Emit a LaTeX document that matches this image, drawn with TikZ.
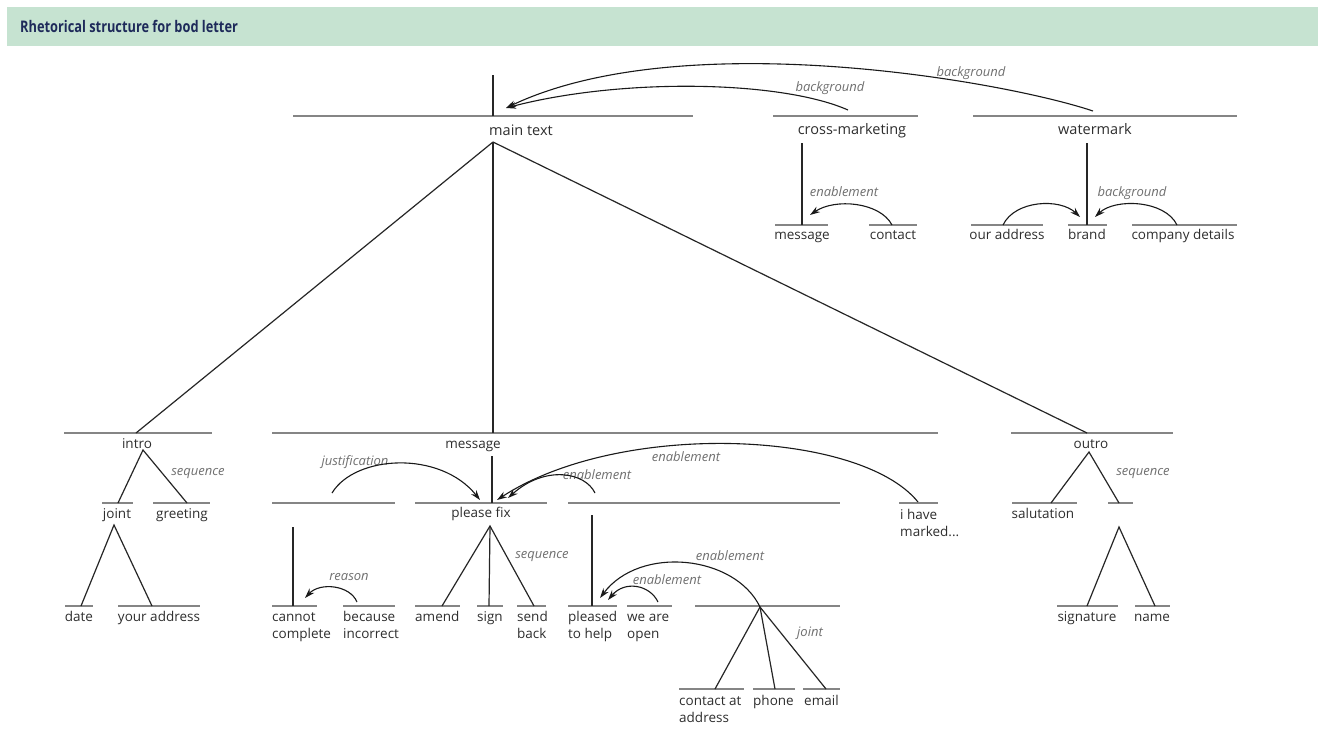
\documentclass[tikz,border=0pt]{standalone}
\usepackage{fontspec}
\setmainfont{Open Sans}
\newfontfamily\titlefont[FakeStretch=0.8]{Open Sans}
\usetikzlibrary{arrows.meta}
\definecolor{band}{HTML}{C6E3D1}
\definecolor{titlecol}{HTML}{1E2A5A}
\definecolor{barcol}{HTML}{858585}
\definecolor{txtcol}{HTML}{2E2E2E}
\definecolor{relcol}{HTML}{707070}
\newcommand{\twoline}[2]{\begin{tabular}[t]{@{}l@{}}#1\\#2\end{tabular}}
\begin{document}
\begin{tikzpicture}[x=1pt,y=-1pt,
 bar/.style={fill=barcol, inner sep=0pt, outer sep=0pt, minimum height=2.2pt, draw=none},
 lbl/.style={font=\fontsize{13.5}{17}\selectfont, text=txtcol, inner sep=0pt, anchor=base},
 toplbl/.style={lbl, font=\fontsize{14.5}{17}\selectfont},
 lbll/.style={lbl, anchor=base west},
 rel/.style={font=\fontsize{13}{15}\selectfont\itshape, text=relcol, inner sep=0pt},
 tree/.style={draw=black!85, line width=1.2pt},
 relarrow/.style={draw=black!90, line width=1.1pt, -{Stealth[length=10pt,width=6.5pt]}},
]
\useasboundingbox (0,0) rectangle (1318,731);
\fill[white] (0,0) rectangle (1318,731);
% header
\fill[band] (7,7) rectangle (1318,46);
\node[anchor=base west, inner sep=0pt, font=\titlefont\fontsize{16}{18}\selectfont\bfseries, text=titlecol] (title) at (20,32) {Rhetorical structure for bod letter};

% ---------- bars ----------
\node[bar, minimum width=400pt] (mainbar) at (493,116) {};
\node[bar, minimum width=145pt] (cmbar) at (845.5,116) {};
\node[bar, minimum width=264pt] (wmbar) at (1105,116) {};
\node[bar, minimum width=53pt] (cmmsgbar) at (801.5,225) {};
\node[bar, minimum width=48pt] (contactbar) at (893,225) {};
\node[bar, minimum width=72pt] (ouraddrbar) at (1007,225) {};
\node[bar, minimum width=39pt] (brandbar) at (1087.5,225) {};
\node[bar, minimum width=105pt] (compbar) at (1184.5,225) {};
\node[bar, minimum width=148pt] (introbar) at (138,433) {};
\node[bar, minimum width=666pt] (messagebar) at (605,433) {};
\node[bar, minimum width=162pt] (outrobar) at (1092,433) {};
\node[bar, minimum width=31pt] (jointbar) at (117.5,503) {};
\node[bar, minimum width=57pt] (greetbar) at (181.5,503) {};
\node[bar, minimum width=123pt] (leftbar) at (333.5,503) {};
\node[bar, minimum width=132pt] (fixbar) at (481,503) {};
\node[bar, minimum width=272pt] (rightbar) at (704,503) {};
\node[bar, minimum width=39pt] (ihavebar) at (918.5,503) {};
\node[bar, minimum width=65pt] (salbar) at (1044.5,503) {};
\node[bar, minimum width=25pt] (sigbar) at (1120.5,503) {};
\node[bar, minimum width=28pt] (datebar) at (79,606) {};
\node[bar, minimum width=82pt] (yourbar) at (159,606) {};
\node[bar, minimum width=45pt] (cannotbar) at (294.5,606) {};
\node[bar, minimum width=52pt] (becausebar) at (369,606) {};
\node[bar, minimum width=45pt] (amendbar) at (437.5,606) {};
\node[bar, minimum width=26pt] (signbar) at (490,606) {};
\node[bar, minimum width=29pt] (sendbar) at (531.5,606) {};
\node[bar, minimum width=49pt] (pleasedbar) at (592.5,606) {};
\node[bar, minimum width=45pt] (openbar) at (649.5,606) {};
\node[bar, minimum width=145pt] (cjbar) at (767.5,606) {};
\node[bar, minimum width=61pt] (signaturebar) at (1087.5,606) {};
\node[bar, minimum width=35pt] (namebar) at (1152.5,606) {};
\node[bar, minimum width=65pt] (caddrbar) at (711.5,689) {};
\node[bar, minimum width=42pt] (phonebar) at (774,689) {};
\node[bar, minimum width=37pt] (emailbar) at (821.5,689) {};

% ---------- labels ----------
\node[toplbl] (maintext) at (521,135) {main text};
\node[toplbl] (crossm) at (852,134) {cross-marketing};
\node[toplbl] (watermark) at (1095,134) {watermark};
\node[lbl] (cmmsg) at (802,239) {message};
\node[lbl] (contact) at (893,239) {contact};
\node[lbl] (ouraddr) at (1007,239) {our address};
\node[lbl] (brand) at (1087,239) {brand};
\node[lbl] (compdet) at (1183,239) {company details};
\node[lbl] (intro) at (137,448) {intro};
\node[lbl] (message) at (473,448) {message};
\node[lbl] (outro) at (1091,448) {outro};
\node[lbl] (joint) at (117,518) {joint};
\node[lbl] (greeting) at (182,518) {greeting};
\node[lbl] (pleasefix) at (481,517) {please fix};
\node[lbll] (ihave) at (900,519) {\twoline{i have}{marked...}};
\node[lbl] (salutation) at (1043,518) {salutation};
\node[lbl] (date) at (79,621) {date};
\node[lbl] (youraddr) at (159,621) {your address};
\node[lbll] (cannot) at (272,621) {\twoline{cannot}{complete}};
\node[lbll] (because) at (343,621) {\twoline{because}{incorrect}};
\node[lbll] (amend) at (415,621) {amend};
\node[lbll] (sign) at (477,621) {sign};
\node[lbll] (sendback) at (517,621) {\twoline{send}{back}};
\node[lbll] (pleased) at (568,621) {\twoline{pleased}{to help}};
\node[lbll] (weareopen) at (627,621) {\twoline{we are}{open}};
\node[lbl] (signature) at (1087,621) {signature};
\node[lbl] (name) at (1152,621) {name};
\node[lbll] (caddr) at (679,705) {\twoline{contact at}{address}};
\node[lbll] (phone) at (753,705) {phone};
\node[lbll] (email) at (804,705) {email};

% ---------- relation labels ----------
\node[rel] (r1) at (971,73) {background};
\node[rel] (r2) at (830,88) {background};
\node[rel] (r3) at (844,192) {enablement};
\node[rel] (r4) at (1132,193) {background};
\node[rel] (r5) at (198,473) {sequence};
\node[rel] (r6) at (355,462) {justification};
\node[rel] (r7) at (686,457) {enablement};
\node[rel] (r8) at (597,475) {enablement};
\node[rel] (r9) at (349,577) {reason};
\node[rel] (r10) at (542,556) {sequence};
\node[rel] (r11) at (730,556) {enablement};
\node[rel] (r12) at (667,580) {enablement};
\node[rel] (r13) at (810,633) {joint};
\node[rel] (r14) at (1143,473) {sequence};

% ---------- tree coordinates ----------
\coordinate (maintop) at (493,75);
\coordinate (mainbot) at (493,116);
\coordinate (mainapex) at (493,142);
\coordinate (introtop) at (136,433);
\coordinate (msgtop) at (493,433);
\coordinate (outrotop) at (1087,433);
\coordinate (cmv1) at (802,143);
\coordinate (cmv2) at (802,225);
\coordinate (wmv1) at (1087,143);
\coordinate (wmv2) at (1087,225);
\coordinate (introapex) at (143,450);
\coordinate (jointtop) at (118,503);
\coordinate (greettop) at (187,503);
\coordinate (jointapex) at (114,525);
\coordinate (datetop) at (81,606);
\coordinate (yourtop) at (152,606);
\coordinate (msgv1) at (492,456);
\coordinate (msgv2) at (492,503);
\coordinate (cannotv1) at (293,527);
\coordinate (cannotv2) at (293,606);
\coordinate (fixapex) at (490,526);
\coordinate (amendtop) at (442,606);
\coordinate (signtop) at (489,606);
\coordinate (sendtop) at (534,606);
\coordinate (rightv1) at (592,515);
\coordinate (rightv2) at (592,606);
\coordinate (cjapex) at (760,607);
\coordinate (caddrtop) at (715,689);
\coordinate (phonetop) at (775,689);
\coordinate (emailtop) at (826,689);
\coordinate (outroapex) at (1089,452);
\coordinate (saltop) at (1051,503);
\coordinate (sigtop) at (1119,503);
\coordinate (sigapex) at (1119,527);
\coordinate (signaturetop) at (1087,606);
\coordinate (nametop) at (1155,606);

\draw[tree] (maintop) -- (mainbot);
\draw[tree] (mainapex) -- (introtop);
\draw[tree] (mainapex) -- (msgtop);
\draw[tree] (mainapex) -- (outrotop);
\draw[tree] (cmv1) -- (cmv2);
\draw[tree] (wmv1) -- (wmv2);
\draw[tree] (jointtop) -- (introapex) -- (greettop);
\draw[tree] (datetop) -- (jointapex) -- (yourtop);
\draw[tree] (msgv1) -- (msgv2);
\draw[tree] (cannotv1) -- (cannotv2);
\draw[tree] (amendtop) -- (fixapex) -- (sendtop);
\draw[tree] (fixapex) -- (signtop);
\draw[tree] (rightv1) -- (rightv2);
\draw[tree] (caddrtop) -- (cjapex) -- (emailtop);
\draw[tree] (cjapex) -- (phonetop);
\draw[tree] (saltop) -- (outroapex) -- (sigtop);
\draw[tree] (signaturetop) -- (sigapex) -- (nametop);

% ---------- relation arrows ----------
\coordinate (wmarr) at (1093,111);
\coordinate (cmarr) at (848,110);
\coordinate (mainarr) at (506,108);
\draw[relarrow] (wmarr) .. controls (1000,80) and (680,25) .. (mainarr);
\draw[relarrow] (cmarr) .. controls (780,80) and (620,78) .. (mainarr);
\coordinate (contactarr) at (892,225);
\coordinate (cmmsgarr) at (810,215);
\draw[relarrow] (contactarr) .. controls (880,202) and (835,198) .. (cmmsgarr);
\coordinate (ouraddrarr) at (1003,225);
\coordinate (brandarrl) at (1080,217);
\coordinate (comparr) at (1177,225);
\coordinate (brandarrr) at (1095,217);
\draw[relarrow] (ouraddrarr) .. controls (1015,200) and (1060,198) .. (brandarrl);
\draw[relarrow] (comparr) .. controls (1165,200) and (1115,198) .. (brandarrr);
\coordinate (leftarr) at (332,493);
\coordinate (fixarrj) at (480,500);
\draw[relarrow] (leftarr) .. controls (355,455) and (440,450) .. (fixarrj);
\coordinate (ihavearr) at (918,502);
\coordinate (fixarr1) at (497,500);
\draw[relarrow] (ihavearr) .. controls (860,430) and (620,420) .. (fixarr1);
\coordinate (rightarr) at (595,493);
\coordinate (fixarr2) at (508,498);
\draw[relarrow] (rightarr) .. controls (585,472) and (545,465) .. (fixarr2);
\coordinate (becarr) at (357,602);
\coordinate (cannotarr) at (305,598);
\draw[relarrow] (becarr) .. controls (350,585) and (320,582) .. (cannotarr);
\coordinate (pleasedarr1) at (600,598);
\coordinate (openarr) at (658,602);
\coordinate (pleasedarr2) at (608,600);
\draw[relarrow] (cjapex) .. controls (735,555) and (640,545) .. (pleasedarr1);
\draw[relarrow] (openarr) .. controls (650,585) and (625,580) .. (pleasedarr2);
\end{tikzpicture}
\end{document}
